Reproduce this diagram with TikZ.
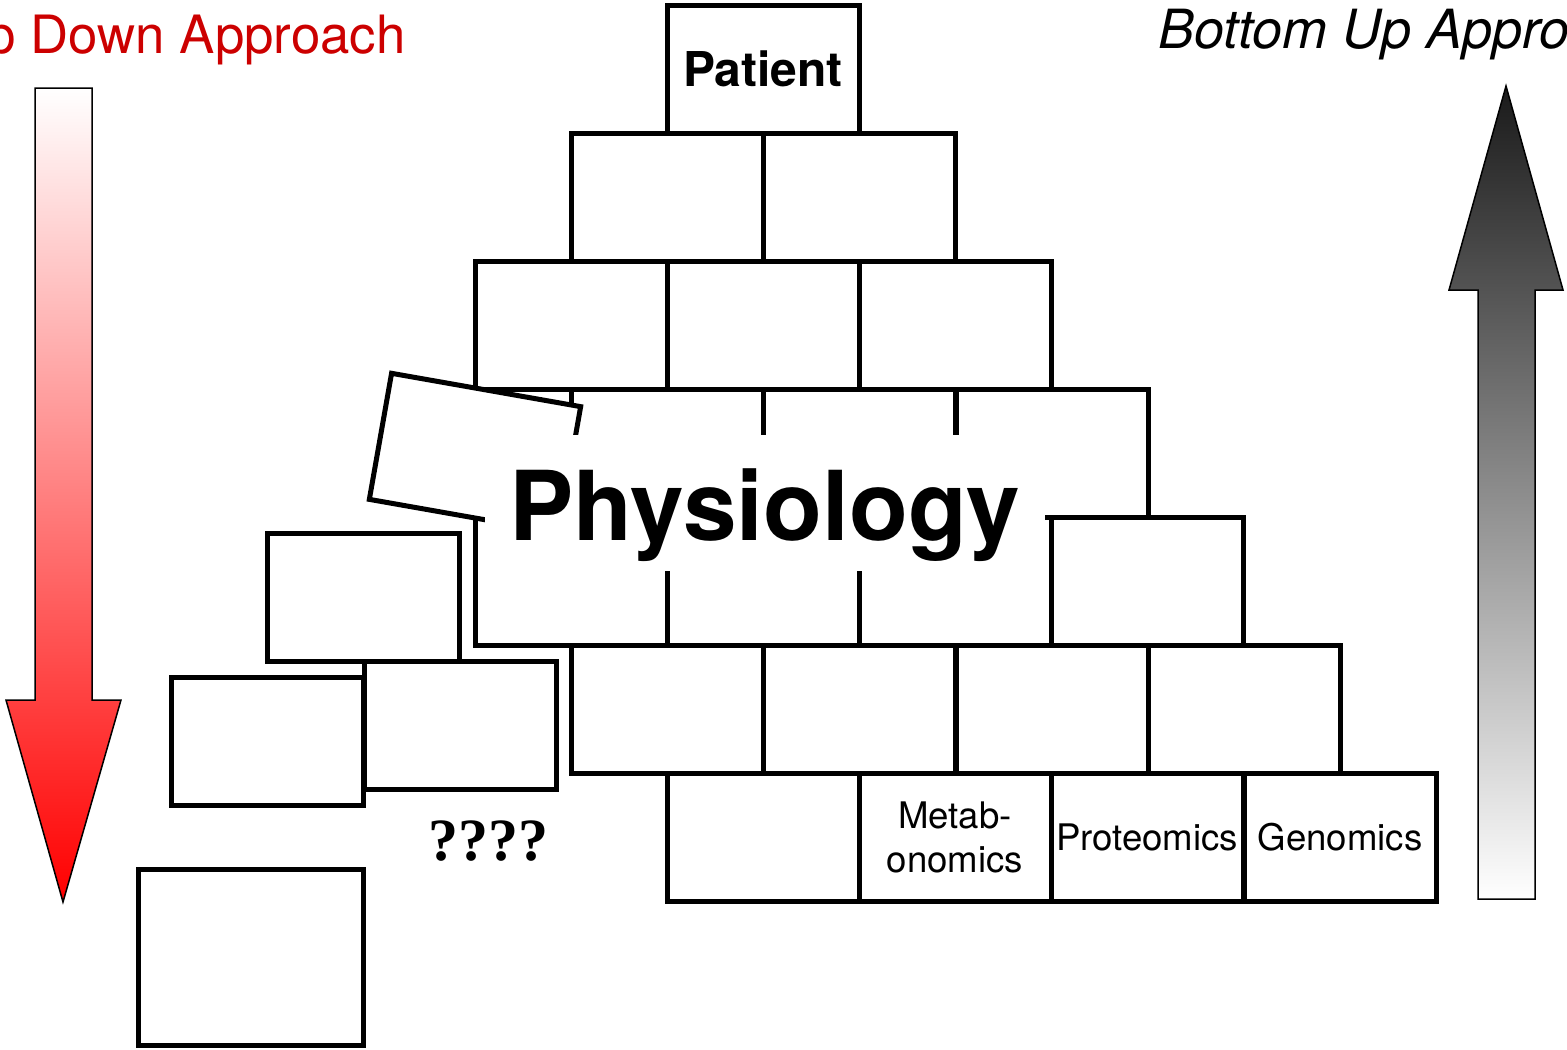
\documentclass[tikz,border=0pt]{standalone}
\usepackage{fontspec}
\setmainfont{TeX Gyre Heros}
\newfontfamily\qmarkfont{Liberation Serif}
\usepackage{tikz}
\definecolor{topred}{HTML}{CC0000}
\definecolor{updark}{HTML}{1A1A1A}

\begin{document}
\begin{tikzpicture}[x=0.5pt,y=-0.5pt,
    brick/.style={draw,line width=2.5pt,minimum width=96pt,minimum height=64pt,inner sep=0pt},
    omics/.style={font=\fontsize{18.3}{22}\selectfont,align=center},
    bigarrow/.style={draw=black,line width=0.75pt}]
    \useasboundingbox (0,0) rectangle (1567,1049);
    % Direction arrows
    \shade[bigarrow,top color=white,bottom color=red]
      (35,88) -- (92,88) -- (92,700) -- (121,700) -- (63,902) -- (6,700) -- (35,700) -- cycle;
    \shade[bigarrow,top color=updark,bottom color=white]
      (1478,899) -- (1535,899) -- (1535,290) -- (1563,290) -- (1506,86) -- (1449,290) -- (1478,290) -- cycle;
    \node[text=topred,anchor=base east,inner sep=0pt,font=\fontsize{26.4}{30}\selectfont] (topdown) at (406,54) {Top Down Approach};
    \node[anchor=base west,inner sep=0pt,font=\itshape\fontsize{27}{31}\selectfont] (bottomup) at (1158,48) {Bottom Up Approach};
    % Pyramid of bricks, row by row
    \node[brick,font=\bfseries\fontsize{24}{28}\selectfont] (patient) at (763,69) {Patient};
    \foreach \x [count=\i] in {667,859} \node[brick] (b1\i) at (\x,197) {};
    \foreach \x [count=\i] in {571,763,955} \node[brick] (b2\i) at (\x,325) {};
    \foreach \x [count=\i] in {667,859,1052} \node[brick] (b3\i) at (\x,453) {};
    \foreach \x [count=\i] in {571,763,955,1147} \node[brick] (b4\i) at (\x,581) {};
    \foreach \x [count=\i] in {667,859,1052,1244} \node[brick] (b5\i) at (\x,709) {};
    \node[brick] (b61) at (763,837) {};
    \node[brick,omics] (metab) at (955,837) {Metab-\\onomics};
    \node[brick,omics] (prot) at (1147,837) {Proteomics};
    \node[brick,omics] (gen) at (1340,837) {Genomics};
    % Bricks falling out
    \node[brick,fill=white,rotate=-10] (tilt) at (475,453) {};
    \node[brick] (f1) at (363,597) {};
    \node[brick] (f2) at (460,725) {};
    \node[brick] (f3) at (267,741) {};
    \node[brick,minimum width=112.5pt,minimum height=88pt] (f4) at (251,957) {};
    \node[font=\qmarkfont\bfseries\fontsize{30}{34}\selectfont] (qmarks) at (488,841) {????};
    % Label over the middle
    \node[fill=white,minimum width=280pt,minimum height=68pt,text height=37pt,text depth=0pt,
      font=\bfseries\fontsize{48.2}{52}\selectfont] (physio) at (765,503) {Physiology};
\end{tikzpicture}
\end{document}
